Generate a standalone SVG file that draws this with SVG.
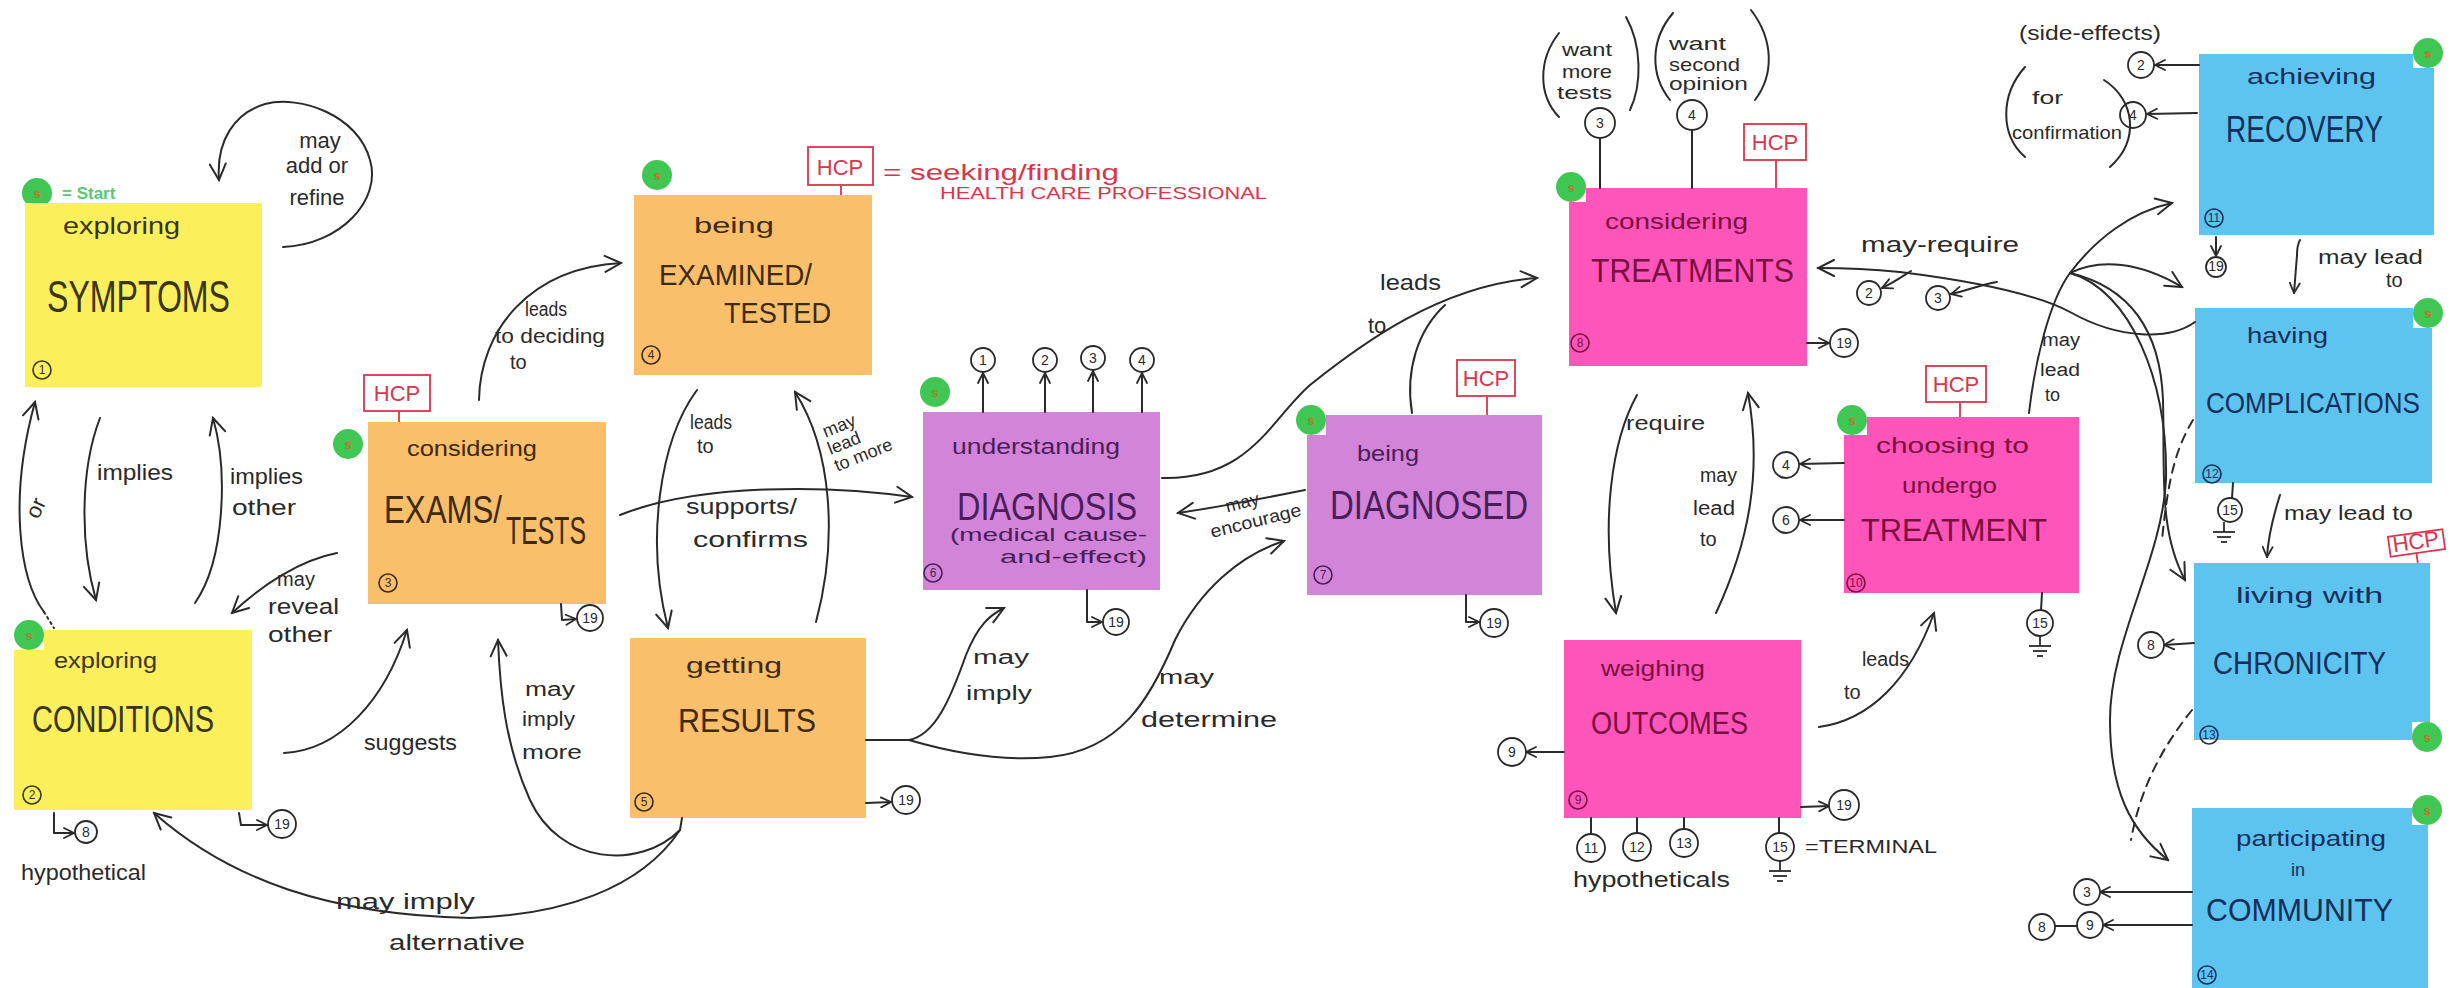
<svg xmlns="http://www.w3.org/2000/svg" width="2453" height="988" viewBox="0 0 2453 988">
<defs>
<style>
text{font-family:"Liberation Sans","DejaVu Sans",Arial,sans-serif}
.y{fill:#FBF05C}.o{fill:#F9BF6B}.p{fill:#D184D8}.k{fill:#FD55B9}.b{fill:#5DC3EF}
.ty{fill:#3a3418}.to{fill:#3d2a10}.tp{fill:#4a1d5a}.tk{fill:#7a1040}.tb{fill:#152f5c}
.t{fill:#2a2a2a}
.ln{fill:none;stroke:#2a2a2a;stroke-width:2;stroke-linecap:round;stroke-linejoin:round}
.dash{stroke-dasharray:9 7}
.a{marker-end:url(#ah)}
.s{marker-end:url(#ahs)}
.ref{fill:#fff;stroke:#2a2a2a;stroke-width:1.8}
.rt{font-size:14px;text-anchor:middle;fill:#2a2a2a}
.num{fill:none;stroke-width:1.6}
.nt{font-size:12px;text-anchor:middle}
.hcp rect{fill:none;stroke:#d9364b;stroke-width:1.8}
.hcp line{stroke:#d9364b;stroke-width:1.8}
.hcp text{fill:#d9364b;font-size:22px;text-anchor:middle}
.st circle{fill:#3fc653}
.st text{fill:#b8782f;font-size:13px;font-weight:bold;text-anchor:middle}
</style>
<marker id="ah" viewBox="0 0 20 20" refX="18" refY="10" markerWidth="20" markerHeight="20" markerUnits="userSpaceOnUse" orient="auto">
<path d="M2,2 L18,10 L2,18" fill="none" stroke="#2a2a2a" stroke-width="2" stroke-linecap="round"/>
</marker>
<marker id="ahs" viewBox="0 0 12 12" refX="11" refY="6" markerWidth="12" markerHeight="12" markerUnits="userSpaceOnUse" orient="auto">
<path d="M1,1 L11,6 L1,11" fill="none" stroke="#2a2a2a" stroke-width="1.8" stroke-linecap="round"/>
</marker>
<g id="ground">
<line x1="0" y1="0" x2="0" y2="10" stroke="#2a2a2a" stroke-width="1.8"/>
<line x1="-11" y1="10" x2="11" y2="10" stroke="#2a2a2a" stroke-width="1.8"/>
<line x1="-7" y1="15" x2="7" y2="15" stroke="#2a2a2a" stroke-width="1.8"/>
<line x1="-3" y1="20" x2="3" y2="20" stroke="#2a2a2a" stroke-width="1.8"/>
</g>
</defs>
<rect width="2453" height="988" fill="#fff"/>

<!-- legend -->
<g id="legend">
<g class="st"><rect x="22" y="178" width="30" height="30" fill="#fff"/><circle cx="37" cy="193" r="15"/><text x="37" y="198">s</text></g>
<text x="62" y="199" font-size="17" font-weight="bold" fill="#57c978">= Start</text>
<g class="hcp"><rect x="808" y="147" width="65" height="38"/><line x1="841" y1="185" x2="841" y2="195"/><text x="840" y="175">HCP</text></g>
<text x="883" y="180" font-size="22" fill="#d9364b" textLength="236" lengthAdjust="spacingAndGlyphs">= seeking/finding</text>
<text x="940" y="199" font-size="17" fill="#d9364b" textLength="327" lengthAdjust="spacingAndGlyphs">HEALTH CARE PROFESSIONAL</text>
</g>

<!-- 1 exploring symptoms -->
<g id="n1">
<rect class="y" x="25" y="203" width="237" height="184"/>
<text class="ty" x="63" y="234" font-size="24" textLength="117" lengthAdjust="spacingAndGlyphs">exploring</text>
<text class="ty" x="47" y="312" font-size="44" textLength="183" lengthAdjust="spacingAndGlyphs">SYMPTOMS</text>
<circle class="num" cx="42" cy="370" r="9" stroke="#3a3418"/><text class="nt ty" x="42" y="374">1</text>
</g>

<!-- 2 exploring conditions -->
<g id="n2">
<rect class="y" x="14" y="630" width="238" height="180"/>
<g class="st"><rect x="14" y="620" width="30" height="30" fill="#fff"/><circle cx="29" cy="635" r="15"/><text x="29" y="640">s</text></g>
<text class="ty" x="54" y="668" font-size="22" textLength="103" lengthAdjust="spacingAndGlyphs">exploring</text>
<text class="ty" x="32" y="732" font-size="36" textLength="182" lengthAdjust="spacingAndGlyphs">CONDITIONS</text>
<circle class="num" cx="32" cy="795" r="9" stroke="#3a3418"/><text class="nt ty" x="32" y="799">2</text>
</g>

<!-- 3 considering exams/tests -->
<g id="n3">
<rect class="o" x="368" y="422" width="238" height="182"/>
<g class="st"><rect x="333" y="429" width="30" height="30" fill="#fff"/><circle cx="348" cy="444" r="15"/><text x="348" y="449">s</text></g>
<g class="hcp"><rect x="364" y="375" width="66" height="36"/><line x1="399" y1="411" x2="399" y2="422"/><text x="397" y="401">HCP</text></g>
<text class="to" x="407" y="456" font-size="22" textLength="130" lengthAdjust="spacingAndGlyphs">considering</text>
<text class="to" x="384" y="523" font-size="38" textLength="118" lengthAdjust="spacingAndGlyphs">EXAMS/</text>
<text class="to" x="506" y="544" font-size="38" textLength="80" lengthAdjust="spacingAndGlyphs">TESTS</text>
<circle class="num" cx="388" cy="583" r="9" stroke="#3d2a10"/><text class="nt to" x="388" y="587">3</text>
</g>

<!-- 4 being examined/tested -->
<g id="n4">
<rect class="o" x="634" y="195" width="238" height="180"/>
<g class="st"><circle cx="657" cy="175" r="15"/><text x="657" y="180">s</text></g>
<text class="to" x="694" y="233" font-size="22" textLength="80" lengthAdjust="spacingAndGlyphs">being</text>
<text class="to" x="659" y="285" font-size="30" textLength="153" lengthAdjust="spacingAndGlyphs">EXAMINED/</text>
<text class="to" x="724" y="323" font-size="30" textLength="107" lengthAdjust="spacingAndGlyphs">TESTED</text>
<circle class="num" cx="651" cy="355" r="9" stroke="#3d2a10"/><text class="nt to" x="651" y="359">4</text>
</g>

<!-- 5 getting results -->
<g id="n5">
<rect class="o" x="630" y="638" width="236" height="180"/>
<text class="to" x="686" y="673" font-size="22" textLength="96" lengthAdjust="spacingAndGlyphs">getting</text>
<text class="to" x="678" y="732" font-size="34" textLength="138" lengthAdjust="spacingAndGlyphs">RESULTS</text>
<circle class="num" cx="644" cy="802" r="9" stroke="#3d2a10"/><text class="nt to" x="644" y="806">5</text>
</g>

<!-- 6 understanding diagnosis -->
<g id="n6">
<rect class="p" x="923" y="412" width="237" height="178"/>
<g class="st"><circle cx="935" cy="392" r="15"/><text x="935" y="397">s</text></g>
<text class="tp" x="952" y="454" font-size="22" textLength="168" lengthAdjust="spacingAndGlyphs">understanding</text>
<text class="tp" x="957" y="520" font-size="38" textLength="180" lengthAdjust="spacingAndGlyphs">DIAGNOSIS</text>
<text class="tp" x="950" y="541" font-size="18" textLength="197" lengthAdjust="spacingAndGlyphs">(medical cause-</text>
<text class="tp" x="1000" y="563" font-size="18" textLength="147" lengthAdjust="spacingAndGlyphs">and-effect)</text>
<circle class="num" cx="933" cy="573" r="9" stroke="#4a1d5a"/><text class="nt tp" x="933" y="577">6</text>
</g>

<!-- 7 being diagnosed -->
<g id="n7">
<rect class="p" x="1307" y="415" width="235" height="180"/>
<g class="st"><rect x="1296" y="405" width="30" height="30" fill="#fff"/><circle cx="1311" cy="420" r="15"/><text x="1311" y="425">s</text></g>
<g class="hcp"><rect x="1457" y="360" width="58" height="36"/><line x1="1487" y1="396" x2="1487" y2="415"/><text x="1486" y="386">HCP</text></g>
<text class="tp" x="1357" y="461" font-size="22" textLength="62" lengthAdjust="spacingAndGlyphs">being</text>
<text class="tp" x="1330" y="519" font-size="40" textLength="198" lengthAdjust="spacingAndGlyphs">DIAGNOSED</text>
<circle class="num" cx="1323" cy="575" r="9" stroke="#4a1d5a"/><text class="nt tp" x="1323" y="579">7</text>
</g>

<!-- 8 considering treatments -->
<g id="n8">
<rect class="k" x="1569" y="188" width="238" height="178"/>
<g class="st"><rect x="1556" y="172" width="30" height="30" fill="#fff"/><circle cx="1571" cy="187" r="15"/><text x="1571" y="192">s</text></g>
<g class="hcp"><rect x="1744" y="124" width="62" height="36"/><line x1="1776" y1="160" x2="1776" y2="188"/><text x="1775" y="150">HCP</text></g>
<text class="tk" x="1605" y="229" font-size="22" textLength="143" lengthAdjust="spacingAndGlyphs">considering</text>
<text class="tk" x="1591" y="282" font-size="34" textLength="203" lengthAdjust="spacingAndGlyphs">TREATMENTS</text>
<circle class="num" cx="1580" cy="343" r="9" stroke="#7a1040"/><text class="nt tk" x="1580" y="347">8</text>
</g>

<!-- 9 weighing outcomes -->
<g id="n9">
<rect class="k" x="1564" y="640" width="237" height="178"/>
<text class="tk" x="1601" y="676" font-size="22" textLength="104" lengthAdjust="spacingAndGlyphs">weighing</text>
<text class="tk" x="1591" y="734" font-size="32" textLength="157" lengthAdjust="spacingAndGlyphs">OUTCOMES</text>
<circle class="num" cx="1578" cy="800" r="9" stroke="#7a1040"/><text class="nt tk" x="1578" y="804">9</text>
</g>

<!-- 10 choosing to undergo treatment -->
<g id="n10">
<rect class="k" x="1844" y="417" width="235" height="176"/>
<g class="st"><rect x="1837" y="405" width="30" height="30" fill="#fff"/><circle cx="1852" cy="420" r="15"/><text x="1852" y="425">s</text></g>
<g class="hcp"><rect x="1926" y="366" width="60" height="36"/><line x1="1960" y1="402" x2="1960" y2="417"/><text x="1956" y="392">HCP</text></g>
<text class="tk" x="1876" y="453" font-size="22" textLength="153" lengthAdjust="spacingAndGlyphs">choosing to</text>
<text class="tk" x="1902" y="493" font-size="22" textLength="95" lengthAdjust="spacingAndGlyphs">undergo</text>
<text class="tk" x="1861" y="541" font-size="32" textLength="186" lengthAdjust="spacingAndGlyphs">TREATMENT</text>
<circle class="num" cx="1856" cy="583" r="9" stroke="#7a1040"/><text class="nt tk" x="1856" y="587" font-size="10">10</text>
</g>

<!-- 11 achieving recovery -->
<g id="n11">
<rect class="b" x="2199" y="54" width="235" height="181"/>
<g class="st"><rect x="2413" y="38" width="30" height="30" fill="#fff"/><circle cx="2428" cy="53" r="15"/><text x="2428" y="58">s</text></g>
<text class="tb" x="2247" y="84" font-size="22" textLength="129" lengthAdjust="spacingAndGlyphs">achieving</text>
<text class="tb" x="2226" y="142" font-size="36" textLength="157" lengthAdjust="spacingAndGlyphs">RECOVERY</text>
<circle class="num" cx="2214" cy="218" r="9" stroke="#152f5c"/><text class="nt tb" x="2214" y="222" font-size="10">11</text>
</g>

<!-- 12 having complications -->
<g id="n12">
<rect class="b" x="2195" y="308" width="237" height="175"/>
<g class="st"><rect x="2413" y="298" width="30" height="30" fill="#fff"/><circle cx="2428" cy="313" r="15"/><text x="2428" y="318">s</text></g>
<text class="tb" x="2247" y="343" font-size="22" textLength="81" lengthAdjust="spacingAndGlyphs">having</text>
<text class="tb" x="2206" y="413" font-size="30" textLength="214" lengthAdjust="spacingAndGlyphs">COMPLICATIONS</text>
<circle class="num" cx="2212" cy="474" r="9" stroke="#152f5c"/><text class="nt tb" x="2212" y="478" font-size="10">12</text>
</g>

<!-- 13 living with chronicity -->
<g id="n13">
<rect class="b" x="2194" y="563" width="236" height="177"/>
<g class="st"><rect x="2412" y="722" width="30" height="30" fill="#fff"/><circle cx="2427" cy="737" r="15"/><text x="2427" y="742">s</text></g>
<g class="hcp" transform="rotate(-8 2416 543)"><rect x="2389" y="533" width="55" height="20"/><line x1="2415" y1="553" x2="2415" y2="563"/><text x="2416" y="549" font-size="14">HCP</text></g>
<text class="tb" x="2236" y="603" font-size="22" textLength="147" lengthAdjust="spacingAndGlyphs">living with</text>
<text class="tb" x="2213" y="674" font-size="32" textLength="173" lengthAdjust="spacingAndGlyphs">CHRONICITY</text>
<circle class="num" cx="2209" cy="735" r="9" stroke="#152f5c"/><text class="nt tb" x="2209" y="739" font-size="10">13</text>
</g>

<!-- 14 participating in community -->
<g id="n14">
<rect class="b" x="2192" y="808" width="236" height="180"/>
<g class="st"><rect x="2412" y="795" width="30" height="30" fill="#fff"/><circle cx="2427" cy="810" r="15"/><text x="2427" y="815">s</text></g>
<text class="tb" x="2236" y="846" font-size="22" textLength="150" lengthAdjust="spacingAndGlyphs">participating</text>
<text class="tb" x="2291" y="876" font-size="18">in</text>
<text class="tb" x="2206" y="921" font-size="32" textLength="187" lengthAdjust="spacingAndGlyphs">COMMUNITY</text>
<circle class="num" cx="2207" cy="975" r="9" stroke="#152f5c"/><text class="nt tb" x="2207" y="979" font-size="10">14</text>
</g>

<!-- connectors, labels and reference circles -->
<g id="connectors">
<!-- symptoms / conditions -->
<path class="ln a" d="M283 247 C340 245 382 200 370 160 C358 115 300 95 265 104 C235 113 216 140 219 180"/>
<text class="t" x="320" y="148" font-size="22" text-anchor="middle">may</text>
<text class="t" x="317" y="173" font-size="22" text-anchor="middle">add or</text>
<text class="t" x="317" y="205" font-size="22" text-anchor="middle">refine</text>
<path class="ln a" d="M100 418 C80 470 80 545 96 600"/>
<text class="t" x="97" y="480" font-size="22" textLength="76" lengthAdjust="spacingAndGlyphs">implies</text>
<path class="ln a" d="M195 603 C225 560 228 470 213 418"/>
<text class="t" x="230" y="484" font-size="22" textLength="73" lengthAdjust="spacingAndGlyphs">implies</text>
<text class="t" x="232" y="515" font-size="22" textLength="64" lengthAdjust="spacingAndGlyphs">other</text>
<path class="ln a" d="M44 612 C20 580 8 500 35 402"/>
<path class="ln" d="M44 612 L54 628" stroke-dasharray="2 4"/>
<text class="t" x="32" y="524" font-size="22" transform="rotate(-65 32 517)">or</text>
<path class="ln a" d="M337 553 C300 560 262 585 232 613"/>
<text class="t" x="296" y="586" font-size="20" text-anchor="middle">may</text>
<text class="t" x="268" y="614" font-size="22" textLength="71" lengthAdjust="spacingAndGlyphs">reveal</text>
<text class="t" x="268" y="642" font-size="22" textLength="64" lengthAdjust="spacingAndGlyphs">other</text>
<path class="ln a" d="M284 753 C340 750 385 700 407 630"/>
<text class="t" x="364" y="750" font-size="22" textLength="93" lengthAdjust="spacingAndGlyphs">suggests</text>
<path class="ln s" d="M54 813 L54 833 L74 833"/>
<circle class="ref" cx="86" cy="832" r="11"/><text class="rt" x="86" y="837">8</text>
<text class="t" x="21" y="880" font-size="22" textLength="125" lengthAdjust="spacingAndGlyphs">hypothetical</text>
<path class="ln s" d="M239 813 L241 825 L267 825"/>
<circle class="ref" cx="282" cy="824" r="14"/><text class="rt" x="282" y="829">19</text>

<!-- exams / examined / results -->
<path class="ln a" d="M479 400 C480 330 530 268 621 263"/>
<text class="t" x="525" y="316" font-size="20" textLength="42" lengthAdjust="spacingAndGlyphs">leads</text>
<text class="t" x="495" y="343" font-size="20" textLength="110" lengthAdjust="spacingAndGlyphs">to deciding</text>
<text class="t" x="510" y="369" font-size="20">to</text>
<path class="ln a" d="M620 515 C700 483 830 485 912 497"/>
<text class="t" x="686" y="514" font-size="22" textLength="111" lengthAdjust="spacingAndGlyphs">supports/</text>
<text class="t" x="693" y="547" font-size="22" textLength="115" lengthAdjust="spacingAndGlyphs">confirms</text>
<path class="ln a" d="M697 390 C660 440 645 540 668 628"/>
<text class="t" x="690" y="429" font-size="20" textLength="42" lengthAdjust="spacingAndGlyphs">leads</text>
<text class="t" x="697" y="453" font-size="20">to</text>
<path class="ln a" d="M816 622 C838 540 832 450 795 392"/>
<g transform="rotate(-22 862 437)">
<text class="t" x="828" y="424" font-size="18">may</text>
<text class="t" x="826" y="442" font-size="18">lead</text>
<text class="t" x="826" y="460" font-size="18">to more</text>
</g>
<path class="ln s" d="M561 604 L562 620 L576 619"/>
<circle class="ref" cx="590" cy="618" r="13"/><text class="rt" x="590" y="623">19</text>
<path class="ln" d="M682 818 L680 830"/>
<path class="ln a" d="M680 830 C640 870 560 865 530 800 C505 745 500 690 498 640"/>
<text class="t" x="525" y="696" font-size="20" textLength="50" lengthAdjust="spacingAndGlyphs">may</text>
<text class="t" x="522" y="726" font-size="20" textLength="53" lengthAdjust="spacingAndGlyphs">imply</text>
<text class="t" x="522" y="759" font-size="20" textLength="60" lengthAdjust="spacingAndGlyphs">more</text>
<path class="ln a" d="M680 830 C640 890 560 915 470 918 C330 915 230 880 154 813"/>
<text class="t" x="336" y="909" font-size="22" textLength="139" lengthAdjust="spacingAndGlyphs">may imply</text>
<text class="t" x="389" y="950" font-size="22" textLength="136" lengthAdjust="spacingAndGlyphs">alternative</text>
<path class="ln s" d="M866 803 L891 802"/>
<circle class="ref" cx="906" cy="800" r="14"/><text class="rt" x="906" y="805">19</text>

<!-- results to diagnosis -->
<path class="ln" d="M866 740 L909 740"/>
<path class="ln a" d="M909 740 C935 735 950 700 966 655 C978 625 990 615 1004 608"/>
<text class="t" x="973" y="664" font-size="20" textLength="56" lengthAdjust="spacingAndGlyphs">may</text>
<text class="t" x="966" y="700" font-size="20" textLength="66" lengthAdjust="spacingAndGlyphs">imply</text>
<path class="ln a" d="M909 740 C950 752 1000 762 1050 757 C1120 750 1150 700 1175 640 C1200 590 1240 555 1284 541"/>
<text class="t" x="1159" y="684" font-size="20" textLength="55" lengthAdjust="spacingAndGlyphs">may</text>
<text class="t" x="1141" y="727" font-size="22" textLength="136" lengthAdjust="spacingAndGlyphs">determine</text>

<!-- understanding diagnosis -->
<path class="ln s" d="M983 412 L983 373"/><circle class="ref" cx="983" cy="360" r="12"/><text class="rt" x="983" y="365">1</text>
<path class="ln s" d="M1045 412 L1045 373"/><circle class="ref" cx="1045" cy="360" r="12"/><text class="rt" x="1045" y="365">2</text>
<path class="ln s" d="M1093 412 L1093 371"/><circle class="ref" cx="1093" cy="358" r="12"/><text class="rt" x="1093" y="363">3</text>
<path class="ln s" d="M1142 412 L1142 373"/><circle class="ref" cx="1142" cy="360" r="12"/><text class="rt" x="1142" y="365">4</text>
<path class="ln s" d="M1087 590 L1087 622 L1102 622"/>
<circle class="ref" cx="1116" cy="622" r="13"/><text class="rt" x="1116" y="627">19</text>
<path class="ln a" d="M1162 478 C1250 480 1270 420 1310 385 C1360 345 1440 285 1537 278"/>
<path class="ln" d="M1412 413 C1405 370 1418 330 1445 305"/>
<text class="t" x="1380" y="290" font-size="22" textLength="61" lengthAdjust="spacingAndGlyphs">leads</text>
<text class="t" x="1368" y="333" font-size="22">to</text>
<path class="ln a" d="M1305 490 C1270 497 1220 507 1178 513"/>
<g transform="rotate(-14 1254 512)">
<text class="t" x="1228" y="506" font-size="18">may</text>
<text class="t" x="1207" y="527" font-size="18" textLength="93" lengthAdjust="spacingAndGlyphs">encourage</text>
</g>
<path class="ln s" d="M1466 595 L1466 622 L1479 622"/>
<circle class="ref" cx="1494" cy="623" r="14"/><text class="rt" x="1494" y="628">19</text>

<!-- considering treatments -->
<path class="ln" d="M1600 188 L1600 138"/><circle class="ref" cx="1600" cy="123" r="15"/><text class="rt" x="1600" y="128" font-size="16">3</text>
<path class="ln" d="M1692 188 L1692 131"/><circle class="ref" cx="1692" cy="115" r="15"/><text class="rt" x="1692" y="120" font-size="16">4</text>
<path class="ln" d="M1559 33 C1538 60 1538 95 1559 117"/>
<path class="ln" d="M1626 17 C1642 45 1642 85 1630 110"/>
<text class="t" x="1562" y="56" font-size="19" textLength="50" lengthAdjust="spacingAndGlyphs">want</text>
<text class="t" x="1562" y="78" font-size="19" textLength="50" lengthAdjust="spacingAndGlyphs">more</text>
<text class="t" x="1557" y="99" font-size="19" textLength="55" lengthAdjust="spacingAndGlyphs">tests</text>
<path class="ln" d="M1673 13 C1650 40 1650 75 1670 100"/>
<path class="ln" d="M1751 10 C1774 40 1774 75 1755 100"/>
<text class="t" x="1669" y="50" font-size="19" textLength="57" lengthAdjust="spacingAndGlyphs">want</text>
<text class="t" x="1669" y="71" font-size="19" textLength="71" lengthAdjust="spacingAndGlyphs">second</text>
<text class="t" x="1669" y="90" font-size="19" textLength="79" lengthAdjust="spacingAndGlyphs">opinion</text>
<path class="ln s" d="M1807 343 L1829 343"/>
<circle class="ref" cx="1844" cy="343" r="14"/><text class="rt" x="1844" y="348">19</text>

<!-- may require -->
<path class="ln a" d="M2195 322 C2170 340 2120 340 2070 312 C2040 296 1980 282 1900 272 C1860 268 1840 268 1818 268"/>
<text class="t" x="1861" y="252" font-size="22" textLength="158" lengthAdjust="spacingAndGlyphs">may-require</text>
<path class="ln s" d="M1911 271 C1900 278 1893 283 1882 288"/>
<circle class="ref" cx="1869" cy="293" r="12"/><text class="rt" x="1869" y="298">2</text>
<path class="ln s" d="M1997 282 C1980 285 1968 290 1951 294"/>
<circle class="ref" cx="1938" cy="298" r="12"/><text class="rt" x="1938" y="303">3</text>

<!-- treatments / weighing / choosing -->
<path class="ln a" d="M1637 395 C1612 440 1600 520 1616 613"/>
<text class="t" x="1626" y="430" font-size="20" textLength="79" lengthAdjust="spacingAndGlyphs">require</text>
<path class="ln a" d="M1716 613 C1750 540 1762 470 1748 393"/>
<text class="t" x="1700" y="482" font-size="20" textLength="37" lengthAdjust="spacingAndGlyphs">may</text>
<text class="t" x="1693" y="515" font-size="20" textLength="42" lengthAdjust="spacingAndGlyphs">lead</text>
<text class="t" x="1700" y="546" font-size="20">to</text>
<path class="ln a" d="M1819 727 C1870 720 1910 680 1934 613"/>
<text class="t" x="1862" y="666" font-size="20" textLength="47" lengthAdjust="spacingAndGlyphs">leads</text>
<text class="t" x="1844" y="699" font-size="20">to</text>
<path class="ln s" d="M1844 463 L1800 464"/>
<circle class="ref" cx="1786" cy="465" r="13"/><text class="rt" x="1786" y="470">4</text>
<path class="ln s" d="M1844 520 L1800 520"/>
<circle class="ref" cx="1786" cy="520" r="13"/><text class="rt" x="1786" y="525">6</text>
<path class="ln" d="M2042 593 L2041 610"/>
<circle class="ref" cx="2040" cy="623" r="13"/><text class="rt" x="2040" y="628">15</text>
<use href="#ground" x="2040" y="636"/>

<!-- weighing outcomes references -->
<path class="ln s" d="M1564 752 L1526 752"/>
<circle class="ref" cx="1512" cy="752" r="14"/><text class="rt" x="1512" y="757">9</text>
<path class="ln s" d="M1801 807 L1829 806"/>
<circle class="ref" cx="1844" cy="805" r="15"/><text class="rt" x="1844" y="810">19</text>
<path class="ln" d="M1591 818 L1591 834"/><circle class="ref" cx="1591" cy="848" r="14"/><text class="rt" x="1591" y="853">11</text>
<path class="ln" d="M1637 818 L1637 833"/><circle class="ref" cx="1637" cy="847" r="14"/><text class="rt" x="1637" y="852">12</text>
<path class="ln" d="M1684 818 L1684 829"/><circle class="ref" cx="1684" cy="843" r="14"/><text class="rt" x="1684" y="848">13</text>
<text class="t" x="1573" y="887" font-size="22" textLength="157" lengthAdjust="spacingAndGlyphs">hypotheticals</text>
<path class="ln" d="M1779 818 L1779 833"/><circle class="ref" cx="1780" cy="847" r="14"/><text class="rt" x="1780" y="852">15</text>
<use href="#ground" x="1780" y="861"/>
<text class="t" x="1805" y="853" font-size="18" textLength="132" lengthAdjust="spacingAndGlyphs">=TERMINAL</text>

<!-- choosing to undergo treatment may lead to -->
<path class="ln" d="M2029 413 C2035 360 2050 300 2070 273"/>
<text class="t" x="2042" y="346" font-size="18" textLength="38" lengthAdjust="spacingAndGlyphs">may</text>
<text class="t" x="2040" y="376" font-size="18" textLength="40" lengthAdjust="spacingAndGlyphs">lead</text>
<text class="t" x="2045" y="401" font-size="18">to</text>
<path class="ln a" d="M2070 273 C2095 240 2130 212 2172 203"/>
<path class="ln a" d="M2070 273 C2100 258 2140 262 2182 287"/>
<path class="ln a" d="M2070 273 C2120 285 2160 320 2163 400 C2165 470 2158 530 2185 580"/>
<path class="ln a" d="M2070 273 C2130 290 2168 380 2166 480 C2162 560 2110 640 2110 720 C2110 790 2130 830 2168 860"/>
<path class="ln dash" d="M2193 420 C2175 450 2168 480 2162 540"/>
<path class="ln dash" d="M2192 710 C2160 750 2140 790 2131 840"/>

<!-- recovery / complications / chronicity / community -->
<path class="ln s" d="M2199 65 L2155 65"/>
<circle class="ref" cx="2141" cy="65" r="13"/><text class="rt" x="2141" y="70">2</text>
<text class="t" x="2019" y="40" font-size="20" textLength="142" lengthAdjust="spacingAndGlyphs">(side-effects)</text>
<path class="ln s" d="M2197 113 L2147 114"/>
<circle class="ref" cx="2133" cy="115" r="13"/><text class="rt" x="2133" y="120">4</text>
<path class="ln" d="M2025 67 C2000 95 2000 135 2025 157"/>
<path class="ln" d="M2104 80 C2135 100 2140 140 2110 167"/>
<text class="t" x="2032" y="104" font-size="18" textLength="31" lengthAdjust="spacingAndGlyphs">for</text>
<text class="t" x="2012" y="139" font-size="18" textLength="110" lengthAdjust="spacingAndGlyphs">confirmation</text>
<path class="ln s" d="M2216 237 L2216 256"/>
<circle class="ref" cx="2216" cy="267" r="10"/><text class="rt" x="2216" y="271" font-size="11">19</text>
<path class="ln s" d="M2300 240 C2297 245 2297 250 2297 255 L2294 293"/>
<text class="t" x="2318" y="264" font-size="20" textLength="105" lengthAdjust="spacingAndGlyphs">may lead</text>
<text class="t" x="2386" y="287" font-size="20">to</text>
<path class="ln" d="M2233 483 L2232 498"/>
<circle class="ref" cx="2230" cy="510" r="12"/><text class="rt" x="2230" y="515">15</text>
<use href="#ground" x="2224" y="522"/>
<path class="ln s" d="M2280 495 C2272 520 2268 540 2267 557"/>
<text class="t" x="2284" y="520" font-size="20" textLength="129" lengthAdjust="spacingAndGlyphs">may lead to</text>
<path class="ln s" d="M2194 643 L2164 645"/>
<circle class="ref" cx="2151" cy="645" r="13"/><text class="rt" x="2151" y="650">8</text>
<path class="ln s" d="M2192 892 L2100 892"/>
<circle class="ref" cx="2087" cy="892" r="13"/><text class="rt" x="2087" y="897">3</text>
<path class="ln s" d="M2192 925 L2103 925"/>
<circle class="ref" cx="2090" cy="925" r="13"/><text class="rt" x="2090" y="930">9</text>
<path class="ln" d="M2055 926 L2077 926"/>
<circle class="ref" cx="2042" cy="927" r="13"/><text class="rt" x="2042" y="932">8</text>
</g>
</svg>
